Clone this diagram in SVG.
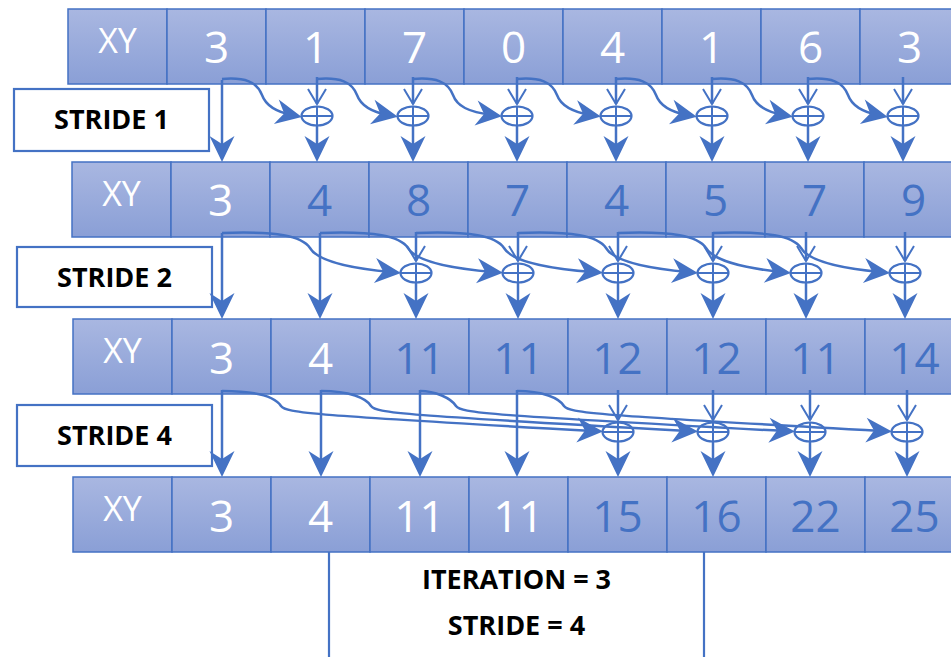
<svg xmlns="http://www.w3.org/2000/svg" width="951" height="657" viewBox="0 0 951 657">
<style>
.cell{fill:url(#cg);stroke:#4472c4;stroke-width:1.5}
.w{fill:#ffffff}
.b{fill:#4472c4}
.num{font-family:"Open Sans","Liberation Sans",sans-serif;font-size:44px;text-anchor:middle}
.xy{font-family:"Open Sans","Liberation Sans",sans-serif;font-size:34px;text-anchor:middle;fill:#ffffff}
.lbl{font-family:"Open Sans","Liberation Sans",sans-serif;font-size:27px;font-weight:bold;text-anchor:middle;fill:#000000}
.box{fill:#ffffff;stroke:#4472c4;stroke-width:2.2}
.plus ellipse{fill:none;stroke:#4472c4;stroke-width:2.2}
.plus line{stroke:#4472c4;stroke-width:2}
.c path{fill:none;stroke:#4472c4;stroke-width:2.5}
.c .v{marker-end:url(#vh)}
.c .f{marker-end:url(#fh)}
</style>
<defs>
<linearGradient id="cg" x1="0" y1="0" x2="0" y2="1">
<stop offset="0" stop-color="#a9b7e1"/>
<stop offset="1" stop-color="#8a9fd6"/>
</linearGradient>
<marker id="fh" markerUnits="userSpaceOnUse" markerWidth="32" markerHeight="30" viewBox="-30 -15 32 30" refX="-10" refY="0" orient="auto">
<path d="M0,0 L-26,-12.5 L-18,0 L-26,12.5 Z" fill="#4472c4"/>
</marker>
<marker id="vh" markerUnits="userSpaceOnUse" markerWidth="22" markerHeight="24" viewBox="-18 -12 22 24" refX="0" refY="0" orient="auto" overflow="visible">
<path d="M-15,-9 L0,0 L-15,9" fill="none" stroke="#4472c4" stroke-width="2"/>
</marker>
</defs>
<rect width="951" height="657" fill="#ffffff"/>

<!-- Row 1 -->
<g id="r1c0"><rect class="cell" x="68" y="9" width="99" height="75"/><text class="xy" x="117.5" y="53">XY</text></g>
<g id="r1c1"><rect class="cell" x="167" y="9" width="99" height="75"/><text class="num w" x="216.5" y="63">3</text></g>
<g id="r1c2"><rect class="cell" x="266" y="9" width="99" height="75"/><text class="num w" x="315.5" y="63">1</text></g>
<g id="r1c3"><rect class="cell" x="365" y="9" width="99" height="75"/><text class="num w" x="414.5" y="63">7</text></g>
<g id="r1c4"><rect class="cell" x="464" y="9" width="99" height="75"/><text class="num w" x="513.5" y="63">0</text></g>
<g id="r1c5"><rect class="cell" x="563" y="9" width="99" height="75"/><text class="num w" x="612.5" y="63">4</text></g>
<g id="r1c6"><rect class="cell" x="662" y="9" width="99" height="75"/><text class="num w" x="711.5" y="63">1</text></g>
<g id="r1c7"><rect class="cell" x="761" y="9" width="99" height="75"/><text class="num w" x="810.5" y="63">6</text></g>
<g id="r1c8"><rect class="cell" x="860" y="9" width="99" height="75"/><text class="num w" x="909.5" y="63">3</text></g>

<!-- Row 2 -->
<g id="r2c0"><rect class="cell" x="72" y="162" width="99" height="75"/><text class="xy" x="121.5" y="206">XY</text></g>
<g id="r2c1"><rect class="cell" x="171" y="162" width="99" height="75"/><text class="num w" x="220.5" y="216">3</text></g>
<g id="r2c2"><rect class="cell" x="270" y="162" width="99" height="75"/><text class="num b" x="319.5" y="216">4</text></g>
<g id="r2c3"><rect class="cell" x="369" y="162" width="99" height="75"/><text class="num b" x="418.5" y="216">8</text></g>
<g id="r2c4"><rect class="cell" x="468" y="162" width="99" height="75"/><text class="num b" x="517.5" y="216">7</text></g>
<g id="r2c5"><rect class="cell" x="567" y="162" width="99" height="75"/><text class="num b" x="616.5" y="216">4</text></g>
<g id="r2c6"><rect class="cell" x="666" y="162" width="99" height="75"/><text class="num b" x="715.5" y="216">5</text></g>
<g id="r2c7"><rect class="cell" x="765" y="162" width="99" height="75"/><text class="num b" x="814.5" y="216">7</text></g>
<g id="r2c8"><rect class="cell" x="864" y="162" width="99" height="75"/><text class="num b" x="913.5" y="216">9</text></g>

<!-- Row 3 -->
<g id="r3c0"><rect class="cell" x="73" y="319" width="99" height="75"/><text class="xy" x="122.5" y="363">XY</text></g>
<g id="r3c1"><rect class="cell" x="172" y="319" width="99" height="75"/><text class="num w" x="221.5" y="374">3</text></g>
<g id="r3c2"><rect class="cell" x="271" y="319" width="99" height="75"/><text class="num w" x="320.5" y="374">4</text></g>
<g id="r3c3"><rect class="cell" x="370" y="319" width="99" height="75"/><text class="num b" x="419.5" y="374">11</text></g>
<g id="r3c4"><rect class="cell" x="469" y="319" width="99" height="75"/><text class="num b" x="518.5" y="374">11</text></g>
<g id="r3c5"><rect class="cell" x="568" y="319" width="99" height="75"/><text class="num b" x="617.5" y="374">12</text></g>
<g id="r3c6"><rect class="cell" x="667" y="319" width="99" height="75"/><text class="num b" x="716.5" y="374">12</text></g>
<g id="r3c7"><rect class="cell" x="766" y="319" width="99" height="75"/><text class="num b" x="815.5" y="374">11</text></g>
<g id="r3c8"><rect class="cell" x="865" y="319" width="99" height="75"/><text class="num b" x="914.5" y="374">14</text></g>

<!-- Row 4 -->
<g id="r4c0"><rect class="cell" x="73" y="477" width="99" height="75"/><text class="xy" x="122.5" y="521">XY</text></g>
<g id="r4c1"><rect class="cell" x="172" y="477" width="99" height="75"/><text class="num w" x="221.5" y="532">3</text></g>
<g id="r4c2"><rect class="cell" x="271" y="477" width="99" height="75"/><text class="num w" x="320.5" y="532">4</text></g>
<g id="r4c3"><rect class="cell" x="370" y="477" width="99" height="75"/><text class="num w" x="419.5" y="532">11</text></g>
<g id="r4c4"><rect class="cell" x="469" y="477" width="99" height="75"/><text class="num w" x="518.5" y="532">11</text></g>
<g id="r4c5"><rect class="cell" x="568" y="477" width="99" height="75"/><text class="num b" x="617.5" y="532">15</text></g>
<g id="r4c6"><rect class="cell" x="667" y="477" width="99" height="75"/><text class="num b" x="716.5" y="532">16</text></g>
<g id="r4c7"><rect class="cell" x="766" y="477" width="99" height="75"/><text class="num b" x="815.5" y="532">22</text></g>
<g id="r4c8"><rect class="cell" x="865" y="477" width="99" height="75"/><text class="num b" x="914.5" y="532">25</text></g>

<!-- Labels -->
<g id="stride1"><rect class="box" x="14" y="89" width="195" height="62"/><text class="lbl" x="111.5" y="129">STRIDE 1</text></g>
<g id="stride2"><rect class="box" x="17" y="247" width="195" height="60"/><text class="lbl" x="114.5" y="287">STRIDE 2</text></g>
<g id="stride4"><rect class="box" x="17" y="405" width="195" height="61"/><text class="lbl" x="114.5" y="445">STRIDE 4</text></g>
<g id="iteration">
<line x1="329" y1="552" x2="329" y2="657" stroke="#4472c4" stroke-width="2.2"/>
<line x1="704" y1="552" x2="704" y2="657" stroke="#4472c4" stroke-width="2.2"/>
<text class="lbl" x="516.5" y="589">ITERATION = 3</text>
<text class="lbl" x="516.5" y="635">STRIDE = 4</text>
</g>

<!-- Plus nodes -->
<g id="s1p1" class="plus"><ellipse cx="317" cy="116" rx="15.5" ry="9.5"/><line x1="301.5" y1="116" x2="332.5" y2="116"/><line x1="317" y1="106.5" x2="317" y2="125.5"/></g>
<g id="s1p2" class="plus"><ellipse cx="413" cy="116" rx="15.5" ry="9.5"/><line x1="397.5" y1="116" x2="428.5" y2="116"/><line x1="413" y1="106.5" x2="413" y2="125.5"/></g>
<g id="s1p3" class="plus"><ellipse cx="517" cy="116" rx="15.5" ry="9.5"/><line x1="501.5" y1="116" x2="532.5" y2="116"/><line x1="517" y1="106.5" x2="517" y2="125.5"/></g>
<g id="s1p4" class="plus"><ellipse cx="616" cy="116" rx="15.5" ry="9.5"/><line x1="600.5" y1="116" x2="631.5" y2="116"/><line x1="616" y1="106.5" x2="616" y2="125.5"/></g>
<g id="s1p5" class="plus"><ellipse cx="712" cy="116" rx="15.5" ry="9.5"/><line x1="696.5" y1="116" x2="727.5" y2="116"/><line x1="712" y1="106.5" x2="712" y2="125.5"/></g>
<g id="s1p6" class="plus"><ellipse cx="808" cy="116" rx="15.5" ry="9.5"/><line x1="792.5" y1="116" x2="823.5" y2="116"/><line x1="808" y1="106.5" x2="808" y2="125.5"/></g>
<g id="s1p7" class="plus"><ellipse cx="903" cy="116" rx="15.5" ry="9.5"/><line x1="887.5" y1="116" x2="918.5" y2="116"/><line x1="903" y1="106.5" x2="903" y2="125.5"/></g>

<g id="s2p2" class="plus"><ellipse cx="416" cy="273" rx="15.5" ry="9.5"/><line x1="400.5" y1="273" x2="431.5" y2="273"/><line x1="416" y1="263.5" x2="416" y2="282.5"/></g>
<g id="s2p3" class="plus"><ellipse cx="518" cy="273" rx="15.5" ry="9.5"/><line x1="502.5" y1="273" x2="533.5" y2="273"/><line x1="518" y1="263.5" x2="518" y2="282.5"/></g>
<g id="s2p4" class="plus"><ellipse cx="618" cy="273" rx="15.5" ry="9.5"/><line x1="602.5" y1="273" x2="633.5" y2="273"/><line x1="618" y1="263.5" x2="618" y2="282.5"/></g>
<g id="s2p5" class="plus"><ellipse cx="713" cy="273" rx="15.5" ry="9.5"/><line x1="697.5" y1="273" x2="728.5" y2="273"/><line x1="713" y1="263.5" x2="713" y2="282.5"/></g>
<g id="s2p6" class="plus"><ellipse cx="806" cy="273" rx="15.5" ry="9.5"/><line x1="790.5" y1="273" x2="821.5" y2="273"/><line x1="806" y1="263.5" x2="806" y2="282.5"/></g>
<g id="s2p7" class="plus"><ellipse cx="905" cy="273" rx="15.5" ry="9.5"/><line x1="889.5" y1="273" x2="920.5" y2="273"/><line x1="905" y1="263.5" x2="905" y2="282.5"/></g>

<g id="s4p4" class="plus"><ellipse cx="618" cy="432" rx="15.5" ry="9.5"/><line x1="602.5" y1="432" x2="633.5" y2="432"/><line x1="618" y1="422.5" x2="618" y2="441.5"/></g>
<g id="s4p5" class="plus"><ellipse cx="713" cy="432" rx="15.5" ry="9.5"/><line x1="697.5" y1="432" x2="728.5" y2="432"/><line x1="713" y1="422.5" x2="713" y2="441.5"/></g>
<g id="s4p6" class="plus"><ellipse cx="810" cy="432" rx="15.5" ry="9.5"/><line x1="794.5" y1="432" x2="825.5" y2="432"/><line x1="810" y1="422.5" x2="810" y2="441.5"/></g>
<g id="s4p7" class="plus"><ellipse cx="907" cy="432" rx="15.5" ry="9.5"/><line x1="891.5" y1="432" x2="922.5" y2="432"/><line x1="907" y1="422.5" x2="907" y2="441.5"/></g>

<!-- Connectors -->
<g id="connectors" class="c">
<!-- stride 1 -->
<path class="f" d="M222,80 L222,152"/>
<path class="v" d="M317,77 L317,104"/><path class="f" d="M317,125 L317,152"/>
<path class="v" d="M413,77 L413,104"/><path class="f" d="M413,125 L413,152"/>
<path class="v" d="M517,77 L517,104"/><path class="f" d="M517,125 L517,152"/>
<path class="v" d="M616,77 L616,104"/><path class="f" d="M616,125 L616,152"/>
<path class="v" d="M712,77 L712,104"/><path class="f" d="M712,125 L712,152"/>
<path class="v" d="M808,77 L808,104"/><path class="f" d="M808,125 L808,152"/>
<path class="v" d="M903,77 L903,104"/><path class="f" d="M903,125 L903,152"/>
<path class="f" d="M222,79 C245,77 257,82 262,95 C266,106 277,112 292,115"/>
<path class="f" d="M317,79 C340,77 352,82 357,95 C361,106 372,112 388,115"/>
<path class="f" d="M413,79 C436,77 448,82 453,95 C457,106 468,112 492,115"/>
<path class="f" d="M517,79 C540,77 552,82 557,95 C561,106 572,112 591,115"/>
<path class="f" d="M616,79 C639,77 651,82 656,95 C660,106 671,112 687,115"/>
<path class="f" d="M712,79 C735,77 747,82 752,95 C756,106 767,112 783,115"/>
<path class="f" d="M808,79 C831,77 843,82 848,95 C852,106 863,112 878,115"/>
<!-- stride 2 -->
<path class="f" d="M222,233 L222,309"/>
<path class="f" d="M320,233 L320,309"/>
<path class="v" d="M416,232 L416,261"/><path class="f" d="M416,282 L416,309"/>
<path class="v" d="M518,232 L518,261"/><path class="f" d="M518,282 L518,309"/>
<path class="v" d="M618,232 L618,261"/><path class="f" d="M618,282 L618,309"/>
<path class="v" d="M713,232 L713,261"/><path class="f" d="M713,282 L713,309"/>
<path class="v" d="M806,232 L806,261"/><path class="f" d="M806,282 L806,309"/>
<path class="v" d="M905,232 L905,261"/><path class="f" d="M905,282 L905,309"/>
<path class="f" d="M222,233 C277,231 302,236 310,248 C317,260 347,268 391,272"/>
<path class="f" d="M320,233 C375,231 400,236 408,248 C415,260 445,268 493,272"/>
<path class="f" d="M416,233 C471,231 496,236 504,248 C511,260 541,268 593,272"/>
<path class="f" d="M518,233 C573,231 598,236 606,248 C613,260 643,268 688,272"/>
<path class="f" d="M618,233 C673,231 698,236 706,248 C713,260 743,268 781,272"/>
<path class="f" d="M713,233 C768,231 793,236 801,248 C808,260 838,268 880,272"/>
<!-- stride 4 -->
<path class="f" d="M222,390 L222,467"/>
<path class="f" d="M321,390 L321,467"/>
<path class="f" d="M420,390 L420,467"/>
<path class="f" d="M517,390 L517,467"/>
<path class="v" d="M618,390 L618,420"/><path class="f" d="M618,441 L618,467"/>
<path class="v" d="M713,390 L713,420"/><path class="f" d="M713,441 L713,467"/>
<path class="v" d="M810,390 L810,420"/><path class="f" d="M810,441 L810,467"/>
<path class="v" d="M907,390 L907,420"/><path class="f" d="M907,441 L907,467"/>
<path class="f" d="M222,391 C260,391 276,398 281,406 C286,413 310,415 593,431"/>
<path class="f" d="M321,391 C350,391 366,398 371,406 C376,413 400,415 688,431"/>
<path class="f" d="M420,391 C435,391 451,398 456,406 C461,413 485,415 785,431"/>
<path class="f" d="M517,391 C543,391 559,398 564,406 C569,413 593,415 882,431"/>
</g>
</svg>
